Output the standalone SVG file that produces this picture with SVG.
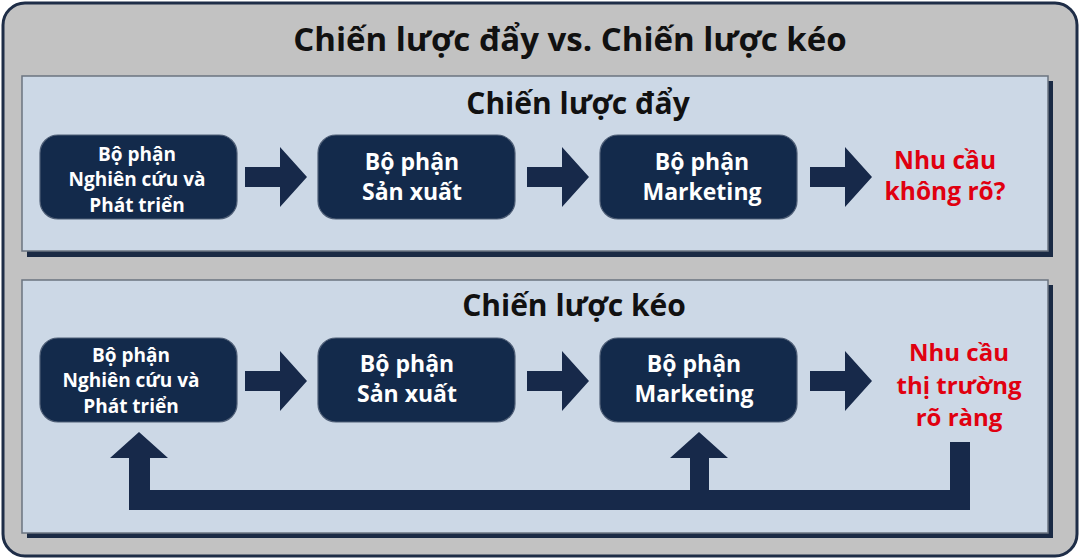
<svg xmlns="http://www.w3.org/2000/svg" width="1080" height="559" viewBox="0 0 1080 559">
<style>
.t{font-family:"Open Sans","Noto Sans","DejaVu Sans",sans-serif;font-weight:bold;text-anchor:middle}
.title{font-size:33px;fill:#111}
.sub{font-size:30px;fill:#111}
.bx{fill:#132a4b;stroke:#4e5e76;stroke-width:1.2}
.bt{fill:#fff}
.s1{font-size:19px}
.s2{font-size:23px}
.red{fill:#e00010}
.panel{fill:#ccd8e6;stroke:#6b7480;stroke-width:1.5}
.shadow{fill:#1a2a44}
.arr{fill:#17294a}
</style>
<defs>
<path id="ra" d="M0,-10 H35 V-30 L62,0 L35,30 V10 H0 Z"/>
</defs>
<g id="frame">
<rect x="3" y="3" width="1074" height="553" rx="22" fill="#c2c2c2" stroke="#1e2d47" stroke-width="3"/>
<text class="t title" x="570" y="51">Chiến lược đẩy vs. Chiến lược kéo</text>
</g>
<g id="push-panel">
<rect class="shadow" x="27" y="81" width="1026" height="176"/>
<rect class="panel" x="22" y="76" width="1026" height="175"/>
<text class="t sub" x="578" y="114">Chiến lược đẩy</text>
</g>
<g id="pull-panel">
<rect class="shadow" x="27" y="285" width="1026" height="253"/>
<rect class="panel" x="22" y="280" width="1026" height="253"/>
<text class="t sub" x="574" y="316">Chiến lược kéo</text>
</g>
<g id="push-rd">
<rect class="bx" x="40" y="135" width="197" height="84" rx="18"/>
<text class="t bt s1" x="137" y="161">Bộ phận</text>
<text class="t bt s1" x="137" y="186">Nghiên cứu và</text>
<text class="t bt s1" x="137" y="212">Phát triển</text>
</g>
<g id="push-sx">
<rect class="bx" x="318" y="135" width="197" height="84" rx="18"/>
<text class="t bt s2" x="412" y="170">Bộ phận</text>
<text class="t bt s2" x="412" y="200">Sản xuất</text>
</g>
<g id="push-mk">
<rect class="bx" x="600" y="135" width="197" height="84" rx="18"/>
<text class="t bt s2" x="702" y="170">Bộ phận</text>
<text class="t bt s2" x="702" y="200">Marketing</text>
</g>
<g id="push-demand">
<text class="t red" x="945" y="169" font-size="24.5">Nhu cầu</text>
<text class="t red" x="945" y="200" font-size="24.5">không rõ?</text>
</g>
<g id="pull-rd">
<rect class="bx" x="40" y="338" width="197" height="84" rx="18"/>
<text class="t bt s1" x="131" y="362">Bộ phận</text>
<text class="t bt s1" x="131" y="387">Nghiên cứu và</text>
<text class="t bt s1" x="131" y="413">Phát triển</text>
</g>
<g id="pull-sx">
<rect class="bx" x="318" y="338" width="197" height="84" rx="18"/>
<text class="t bt s2" x="407" y="372">Bộ phận</text>
<text class="t bt s2" x="407" y="402">Sản xuất</text>
</g>
<g id="pull-mk">
<rect class="bx" x="600" y="338" width="197" height="84" rx="18"/>
<text class="t bt s2" x="694" y="372">Bộ phận</text>
<text class="t bt s2" x="694" y="402">Marketing</text>
</g>
<g id="pull-demand">
<text class="t red" x="959" y="361" font-size="24">Nhu cầu</text>
<text class="t red" x="959" y="394" font-size="24">thị trường</text>
<text class="t red" x="959" y="426" font-size="24">rõ ràng</text>
</g>
<g id="connectors">
<use href="#ra" class="arr" x="245" y="177"/>
<use href="#ra" class="arr" x="527" y="177"/>
<use href="#ra" class="arr" x="810" y="177"/>
<use href="#ra" class="arr" x="245" y="381"/>
<use href="#ra" class="arr" x="527" y="381"/>
<use href="#ra" class="arr" x="810" y="381"/>
<path class="arr" d="M970,442 V510 H129 V458 H110 L139,432 L168,458 H150 V490 H690 V458 H670 L699,432 L728,458 H709 V490 H950 V442 Z"/>
</g>
</svg>
